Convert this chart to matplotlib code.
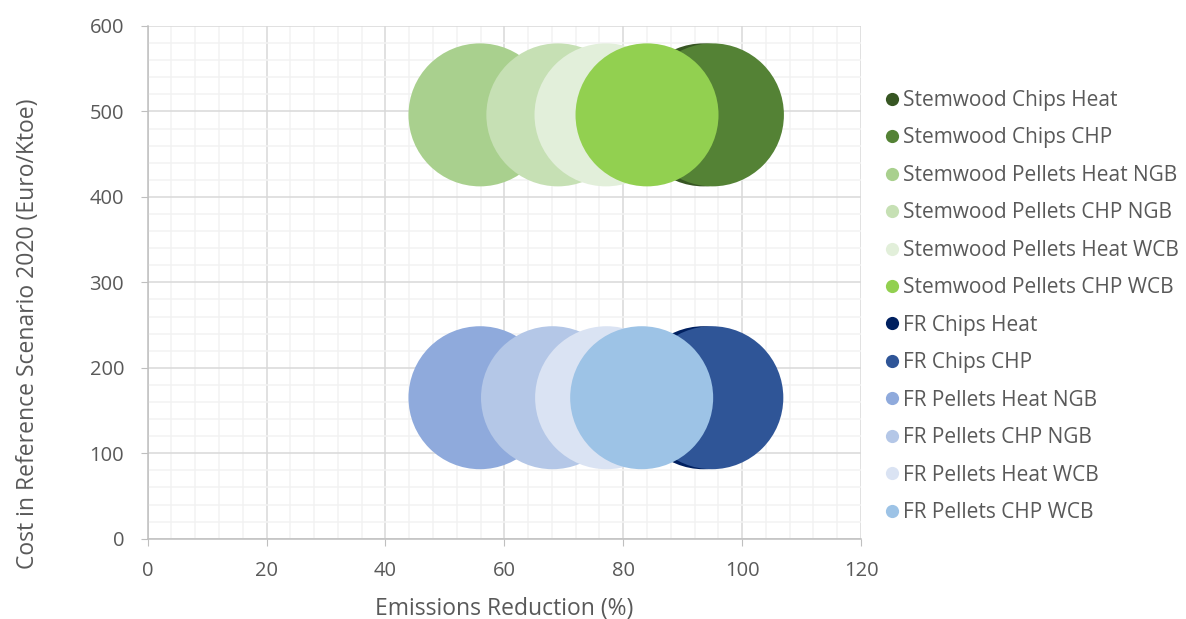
import matplotlib.pyplot as plt
from matplotlib.ticker import MultipleLocator
from matplotlib.lines import Line2D

# series
labels = ['Stemwood Chips Heat', 'Stemwood Chips CHP', 'Stemwood Pellets Heat NGB',
          'Stemwood Pellets CHP NGB', 'Stemwood Pellets Heat WCB', 'Stemwood Pellets CHP WCB',
          'FR Chips Heat', 'FR Chips CHP', 'FR Pellets Heat NGB',
          'FR Pellets CHP NGB', 'FR Pellets Heat WCB', 'FR Pellets CHP WCB']
emissions = [93.5, 95.0, 55.9, 69.0, 77.1, 84.0,
             93.5, 94.9, 55.9, 68.1, 77.2, 83.1]
cost = [496, 496, 496, 496, 496, 496,
        165, 165, 165, 165, 165, 165]
bubble = [10600] * 12
colors = ['#375623', '#548235', '#A9D08E', '#C6E0B4', '#E2EFDA', '#92D050',
          '#002060', '#2F5597', '#8FAADC', '#B4C7E7', '#DAE3F3', '#9DC3E6']

plt.rcParams['font.family'] = ['Open Sans', 'DejaVu Sans']
txt = '#595959'

fig = plt.figure(figsize=(11.86, 6.19), dpi=100)
ax = fig.add_axes([0.1245, 0.1297, 0.6015, 0.8283])

for i in range(len(labels)):
    ax.scatter(emissions[i], cost[i], s=bubble[i], color=colors[i],
               edgecolors='none', zorder=3 + i)

ax.set_xlim(0, 120)
ax.set_ylim(0, 600)
ax.xaxis.set_major_locator(MultipleLocator(20))
ax.xaxis.set_minor_locator(MultipleLocator(4))
ax.yaxis.set_major_locator(MultipleLocator(100))
ax.yaxis.set_minor_locator(MultipleLocator(20))
ax.grid(which='minor', color='#F2F2F2', lw=1.1, zorder=0)
ax.grid(which='major', color='#D9D9D9', lw=1.1, zorder=1)
ax.set_axisbelow(True)

for s in ['top', 'right']:
    ax.spines[s].set_visible(False)
for s in ['left', 'bottom']:
    ax.spines[s].set_color('#BFBFBF')
    ax.spines[s].set_linewidth(1.1)
ax.tick_params(which='major', length=5, color='#BFBFBF', labelsize=14.5,
               labelcolor=txt)
ax.tick_params(axis='x', pad=11)
ax.tick_params(axis='y', pad=12)
ax.tick_params(which='minor', length=0)

ax.set_xlabel('Emissions Reduction (%)', fontsize=16.5, color=txt)
ax.set_ylabel('Cost in Reference Scenario 2020 (Euro/Ktoe)', fontsize=16.5, color=txt)
ax.xaxis.set_label_coords(0.5, -0.113)
ax.yaxis.set_label_coords(-0.151, 0.40)

handles = [Line2D([], [], marker='o', ls='none', markersize=9.5,
                  markerfacecolor=c, markeredgecolor='none') for c in colors]
fig.legend(handles, labels, loc='upper left', bbox_to_anchor=(0.7367, 0.868),
           frameon=False, fontsize=15, labelcolor=txt, handletextpad=0.0,
           handlelength=1.0, labelspacing=0.79, borderaxespad=0)

fig.savefig('out.png', dpi=100)
